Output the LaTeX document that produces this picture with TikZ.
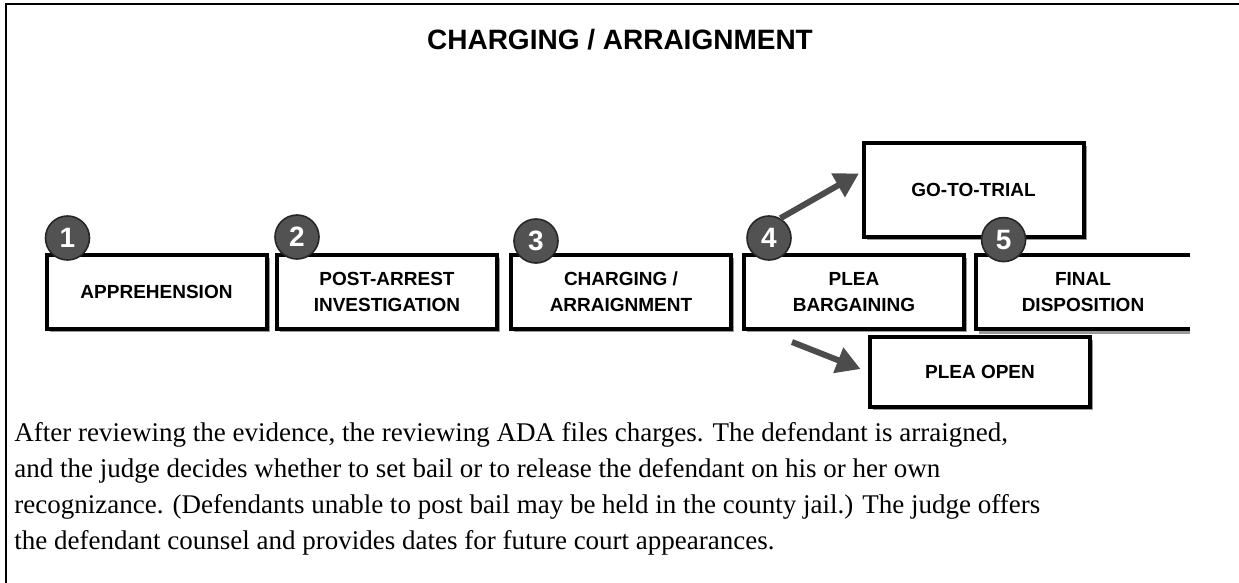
\documentclass[tikz,border=0pt]{standalone}
\usepackage{fontspec}
\setmainfont{Liberation Serif}
\setsansfont{Liberation Sans}
\usetikzlibrary{arrows.meta,shadows}

\begin{document}
\begin{tikzpicture}[x=0.5pt,y=-0.5pt,
  box text/.style={rectangle,align=center,inner sep=0pt,
    font=\sffamily\bfseries\fontsize{9.5}{13}\selectfont,
    minimum height=37pt,minimum width=110pt},
  stage node/.style={box text,draw,fill=white,line width=2pt,
    drop shadow={shadow xshift=1.5pt,shadow yshift=-1.5pt,fill=black!40,opacity=1}},
  num node/.style={circle,fill=black!68,draw=black!85,line width=0.8pt,
    minimum size=22pt,inner sep=0pt,text=white,
    font=\sffamily\bfseries\fontsize{14}{14}\selectfont},
  big arrow/.style={-{Triangle[length=12pt,width=13pt]},line width=3pt,black!70}]

  \useasboundingbox (0,0) rectangle (1239,583);
  \draw[line width=0.8pt] (6,583) -- (6,4) -- (1239,4);

  \node[font=\sffamily\bfseries\fontsize{14}{16}\selectfont] (title) at (620,40) {CHARGING / ARRAIGNMENT};

  % the five stages
  \node[stage node] (app) at (156.5,292) {APPREHENSION};
  \node[stage node] (inv) at (387,292) {POST-ARREST\\INVESTIGATION};
  \node[stage node] (chg) at (621,292) {CHARGING /\\ARRAIGNMENT};
  \node[stage node] (plea) at (854,292) {PLEA\\BARGAINING};
  \node[box text,minimum width=107pt] (fin) at (1083,292) {FINAL\\DISPOSITION};
  \draw[line width=2pt,black!40] ([shift={(3,3)}]fin.south west) -- ([shift={(0,3)}]fin.south east);
  \draw[line width=2pt] (fin.north east) -- (fin.north west) -- (fin.south west) -- (fin.south east);

  \node[stage node,minimum height=47pt] (trial) at (973.5,190) {GO-TO-TRIAL};
  \node[stage node,minimum height=35pt] (open) at (980,372) {PLEA OPEN};

  \node[num node] (n1) at ([shift={(23,-15)}]app.north west) {1};
  \node[num node] (n2) at ([shift={(22,-16)}]inv.north west) {2};
  \node[num node] (n3) at ([shift={(27,-12)}]chg.north west) {3};
  \node[num node] (n4) at ([shift={(27,-15)}]plea.north west) {4};
  \node[num node] (n5) at ([shift={(28,-15)}]fin.north west) {5};

  \coordinate (tail) at (792,342);
  \path
  (n4.60) edge[big arrow,shorten >=1.5pt] ([yshift=9pt]trial.west)
  (tail) edge[big arrow,shorten >=4pt] (open.west)
  ;

  \node[anchor=north west,inner sep=0pt,align=left,
    font=\fontsize{13.5}{18}\selectfont] (desc) at (14,422)
    {After reviewing the evidence, the reviewing ADA files charges. The defendant is arraigned,\\
     and the judge decides whether to set bail or to release the defendant on his or her own\\
     recognizance. (Defendants unable to post bail may be held in the county jail.) The judge offers\\
     the defendant counsel and provides dates for future court appearances.};
\end{tikzpicture}
\end{document}
